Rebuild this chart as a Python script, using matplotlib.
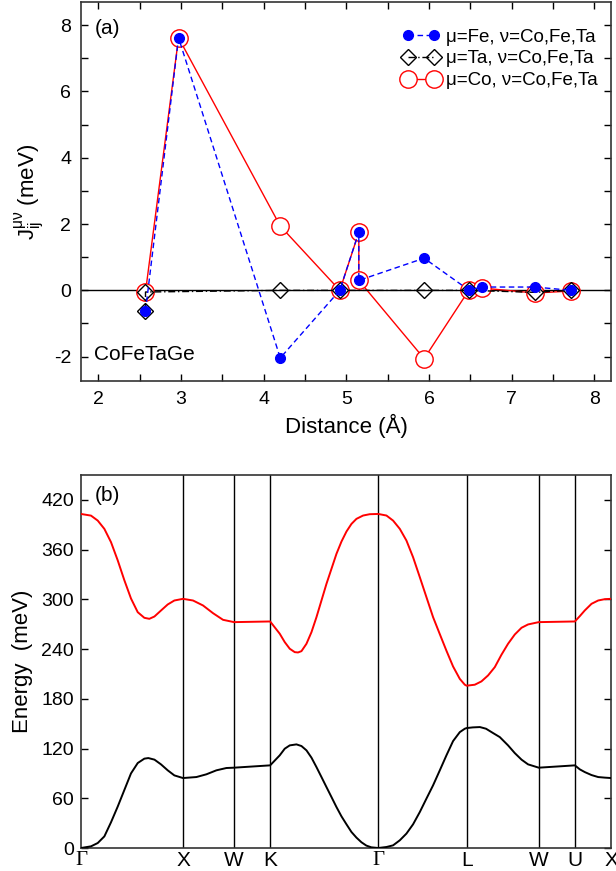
import matplotlib
matplotlib.use("Agg")
import matplotlib.pyplot as plt
from matplotlib.ticker import MultipleLocator

plt.rcParams['font.family'] = ['Liberation Sans', 'DejaVu Sans']
plt.rcParams['mathtext.fontset'] = 'custom'
plt.rcParams['mathtext.rm'] = 'Liberation Sans'
plt.rcParams['mathtext.it'] = 'Liberation Sans'
plt.rcParams['mathtext.bf'] = 'Liberation Sans:bold'
plt.rcParams['axes.unicode_minus'] = False

# ---------------- panel (a): exchange constants ----------------
dist_fe = [2.57, 2.97, 4.20, 4.92, 5.15, 5.15, 5.94, 6.48, 6.64, 7.28, 7.72]
J_fe = [-0.62, 7.62, -2.04, 0.0, 1.76, 0.30, 0.97, 0.01, 0.10, 0.10, 0.0]

dist_ta = [2.57, 2.57, 4.20, 4.92, 5.94, 6.48, 7.28, 7.72]
J_ta = [-0.62, -0.05, 0.0, 0.0, 0.0, 0.0, -0.06, 0.0]

dist_co = [2.57, 2.97, 4.20, 4.92, 5.15, 5.15, 5.94, 6.48, 6.64, 7.28, 7.72]
J_co = [-0.05, 7.62, 1.94, 0.0, 1.75, 0.30, -2.06, 0.0, 0.07, -0.08, -0.02]

label_fe = 'μ=Fe, ν=Co,Fe,Ta'
label_ta = 'μ=Ta, ν=Co,Fe,Ta'
label_co = 'μ=Co, ν=Co,Fe,Ta'

# ---------------- panel (b): magnon bands ----------------
kpath_pos = [0, 1.0, 1.5, 1.854, 2.914, 3.780, 4.487, 4.841, 5.195]
kpath_lab = ['Γ', 'X', 'W', 'K', 'Γ', 'L', 'W', 'U', 'X']

k_up = [0, 0.098, 0.164, 0.229, 0.294, 0.36, 0.425, 0.49, 0.556, 0.621,
        0.67, 0.72, 0.784, 0.85, 0.915, 1.0,
        1.098, 1.196, 1.294, 1.392, 1.5, 1.854, 1.948, 1.997, 2.046, 2.095,
        2.127, 2.161, 2.21, 2.259, 2.308, 2.357, 2.406, 2.455, 2.504, 2.553,
        2.602, 2.651, 2.70, 2.765, 2.83, 2.914,
        2.994, 3.059, 3.125, 3.19, 3.255, 3.321, 3.386, 3.451, 3.517, 3.582,
        3.647, 3.713, 3.762, 3.78, 3.86, 3.925, 3.99, 4.056, 4.121, 4.186,
        4.252, 4.318, 4.382, 4.487, 4.841, 4.889, 4.938, 5.004, 5.069, 5.134,
        5.195]
E_up = [403, 401, 395, 385, 369, 347, 323, 301, 284.5, 277.7,
        276.5, 279.3, 286.5, 293.8, 298.6, 300.6,
        298.6, 292.6, 283.3, 275.3, 272.5, 273.3, 258.5, 248.4, 240.4, 236.3,
        235.9, 237.5, 246.4, 260.4, 278.5, 298.6, 318.7, 336.8, 354.9, 369.7,
        381.8, 391, 397.1, 401.1, 402.7, 403,
        401.1, 395, 385, 370.9, 350.8, 326.7, 302.6, 278.5, 258, 238,
        219, 204, 197, 195.8, 197, 201, 208.2, 218.2, 233.1, 246.4,
        257.6, 265.7, 269.7, 272.5, 273.3, 279.7, 286.6, 294.6, 298.6, 300.2,
        300.6]

k_lo = [0, 0.098, 0.164, 0.229, 0.294, 0.36, 0.425, 0.49, 0.556, 0.621,
        0.66, 0.72, 0.784, 0.85, 0.915, 1.0,
        1.131, 1.229, 1.327, 1.425, 1.5, 1.854, 1.948, 1.997, 2.046, 2.112,
        2.161, 2.21, 2.259, 2.308, 2.357, 2.406, 2.455, 2.504, 2.553, 2.602,
        2.651, 2.7, 2.749, 2.797, 2.846, 2.914,
        2.994, 3.059, 3.125, 3.19, 3.255, 3.321, 3.386, 3.451, 3.517, 3.582,
        3.647, 3.713, 3.762, 3.78, 3.84, 3.91, 3.97, 4.04, 4.105, 4.186,
        4.252, 4.318, 4.382, 4.487, 4.841, 4.889, 4.938, 5.004, 5.069, 5.134,
        5.195]
E_lo = [0, 2, 6, 14, 31, 50, 70, 90, 102.5, 107.8,
        108.5, 106.6, 100.9, 93.7, 87.6, 84.4,
        85.6, 88.9, 93.7, 96.5, 96.9, 99.7, 111.8, 119.8, 123.8, 125,
        123, 117.8, 109, 97.6, 85.6, 73.5, 61.5, 49.4, 38.2, 28.6,
        19.3, 12.5, 6.9, 2.9, 0.8, 0,
        1.2, 3.2, 9.3, 17.4, 28.6, 43.4, 59.6, 75.6, 93.7, 111.8,
        129, 139.8, 143.9, 144.7, 145.5, 145.9, 143.9, 138.6, 133.8, 123.8,
        114.5, 106.6, 100.9, 96.9, 99.7, 94.9, 91.6, 88, 85.6, 84.9,
        84.4]

W, H = 616, 871
fig = plt.figure(figsize=(W / 100, H / 100), dpi=100)

ax1 = fig.add_axes([81 / W, 1 - 381.5 / H, 530 / W, (381.5 - 2) / H])
ax1.axhline(0, color='black', lw=1.0, zorder=1)
ax1.plot(dist_co, J_co, '-', color='red', lw=1.0, marker='o', ms=12.5,
         mfc='white', mec='red', mew=1.0, label=label_co, zorder=2)
ax1.plot(dist_ta, J_ta, color='black', lw=1.0, ls=(0, (5, 2, 1, 2)),
         marker='D', ms=8, mfc='none', mec='black', mew=1.0,
         label=label_ta, zorder=3)
ax1.plot(dist_fe, J_fe, color='blue', lw=1.0, ls=(0, (4, 2.5)), marker='o',
         ms=7, mfc='blue', mec='blue', label=label_fe, zorder=4)

ax1.set_xlim(1.79, 8.2)
ax1.set_ylim(-2.75, 8.7)
ax1.xaxis.set_major_locator(MultipleLocator(1))
ax1.xaxis.set_minor_locator(MultipleLocator(0.5))
ax1.yaxis.set_major_locator(MultipleLocator(2))
ax1.yaxis.set_minor_locator(MultipleLocator(1))
ax1.tick_params(which='both', direction='in', top=True, right=True,
                length=5, width=1.0, labelsize=14, pad=7)
ax1.set_xlabel('Distance (Å)', fontsize=16, labelpad=4)
ax1.set_ylabel(r'J$_{ij}^{\mu\nu}$ (meV)', fontsize=16, labelpad=6)
ax1.text(0.025, 0.955, '(a)', transform=ax1.transAxes, fontsize=15,
         va='top', ha='left')
ax1.text(0.025, 0.045, 'CoFeTaGe', transform=ax1.transAxes, fontsize=15,
         va='bottom', ha='left')
h, l = ax1.get_legend_handles_labels()
order = [2, 1, 0]
ax1.legend([h[i] for i in order], [l[i] for i in order], loc='upper right',
           bbox_to_anchor=(1.0, 0.965), frameon=False, fontsize=13.5,
           numpoints=2, handlelength=2.0, handletextpad=0.35,
           labelspacing=0.25, borderaxespad=0.3, borderpad=0.4)
for s in ax1.spines.values():
    s.set_linewidth(1.2)
    s.set_color('#333333')

ax2 = fig.add_axes([81 / W, 1 - 848 / H, 530 / W, (848 - 475) / H])
for kp in kpath_pos[1:-1]:
    ax2.axvline(kp, color='black', lw=1.0, zorder=1)
ax2.plot(k_up, E_up, color='red', lw=1.4, zorder=3)
ax2.plot(k_lo, E_lo, color='black', lw=1.4, zorder=3)
ax2.set_xlim(kpath_pos[0], kpath_pos[-1])
ax2.set_ylim(0, 450)
ax2.set_yticks(range(0, 421, 60))
ax2.set_xticks(kpath_pos)
ax2.set_xticklabels(kpath_lab)
for t, lab in zip(ax2.get_xticklabels(), kpath_lab):
    if lab == 'Γ':
        t.set_fontfamily(['Liberation Serif', 'DejaVu Serif'])
        t.set_fontsize(17)
ax2.tick_params(axis='y', direction='in', right=True, length=5, width=1.0,
                labelsize=14, pad=5)
ax2.tick_params(axis='x', length=0, labelsize=15, pad=2)
ax2.set_ylabel('Energy  (meV)', fontsize=16, labelpad=6)
ax2.text(0.025, 0.97, '(b)', transform=ax2.transAxes, fontsize=15,
         va='top', ha='left')
for s in ax2.spines.values():
    s.set_linewidth(1.2)
    s.set_color('#333333')

fig.savefig('out.png', dpi=100)
